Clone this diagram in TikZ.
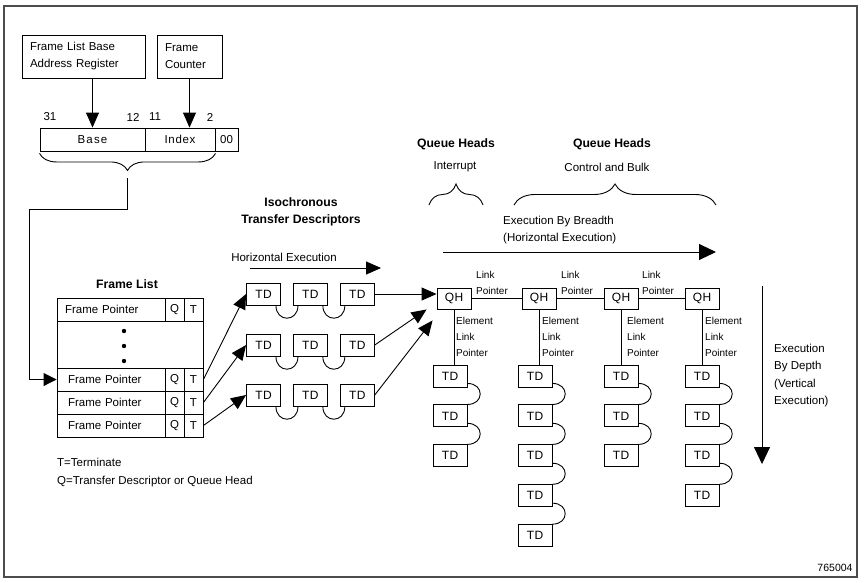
\documentclass[tikz,border=0pt]{standalone}
\usepackage{fontspec}
\setmainfont{Liberation Sans}
\usetikzlibrary{positioning}
\usetikzlibrary{arrows.meta, decorations.pathreplacing}

\tikzset{
  cell/.style={draw=black, line width=0.9pt, inner sep=0pt, font=\fontsize{11.5}{13}\selectfont},
  tdbox/.style={cell, minimum width=34pt, minimum height=22pt, font=\fontsize{12}{14}\selectfont\addfontfeatures{LetterSpace=4}},
  qhbox/.style={tdbox, minimum height=21pt},
  regbox/.style={cell, minimum height=23pt},
  fpbox/.style={cell, minimum height=23pt},
  txt/.style={font=\fontsize{11.5}{17.5}\selectfont, inner sep=0pt},
  small/.style={font=\fontsize{10}{16}\selectfont, inner sep=0pt, align=left},
  heading/.style={font=\fontsize{12.2}{17}\selectfont\bfseries, inner sep=0pt, align=center},
  pointer/.style={line width=0.9pt, -{Triangle[length=15pt,width=13pt]}},
  bigpointer/.style={line width=0.9pt, -{Triangle[length=17pt,width=16pt]}},
  link/.style={line width=0.9pt},
  curly/.style={line width=0.9pt, decorate, decoration={brace, amplitude=#1}},
}

\begin{document}
\begin{tikzpicture}[x=1pt,y=-1pt]
\useasboundingbox (0,0) rectangle (866,582);
\draw[black!70,line width=1.2pt] (4,6) rectangle (857,577);

% address registers
\node[cell, minimum width=123pt, minimum height=43pt, text width=107pt, inner xsep=8pt, align=left, font=\fontsize{11.5}{17}\selectfont] (flbase) at (83.5,56.5) {Frame List Base\\Address Register};
\node[cell, minimum width=65pt, minimum height=43pt, text width=49pt, inner xsep=8pt, align=left, font=\fontsize{11.5}{17}\selectfont] (fcount) at (189.5,56.5) {Frame\\Counter};
\node[regbox, minimum width=105pt, font=\fontsize{11.5}{13}\selectfont\addfontfeatures{LetterSpace=10}] (rbase) at (92.5,139.5) {Base};
\node[regbox, minimum width=70pt, font=\fontsize{11.5}{13}\selectfont\addfontfeatures{LetterSpace=6}] (rindex) at (180,139.5) {Index};
\node[regbox, minimum width=23pt] (rzero) at (226.5,139.5) {00};
\node[txt] (b31) at (50,117) {31};
\node[txt] (b12) at (133,117) {12};
\node[txt] (b11) at (155,117) {11};
\node[txt] (b2) at (210,117) {2};
\draw[pointer] (flbase.south -| rbase.north) -- (rbase.north);
\draw[pointer] (fcount.south) -- (fcount.south |- rindex.north);
\draw[curly=17pt] ([yshift=-2pt]rindex.south east) -- ([yshift=-2pt]rbase.south west);
\coordinate (rtip) at (127.5,178);
\coordinate (bend) at (29,209);

% frame list
\node[heading] (fltitle) at (127,284) {Frame List};
\node[fpbox, minimum width=108pt, text width=92pt, inner xsep=8pt, align=left] (fp1) at (111,309.5) {Frame Pointer};
\node[fpbox, minimum width=19pt] (fq1) at (174.5,309.5) {Q};
\node[fpbox, minimum width=19pt] (ft1) at (193.5,309.5) {T};
\node[cell, minimum width=146pt, minimum height=47pt] (fgap) at (130,344.5) {};
\fill (124,331) circle (2.2pt);
\fill (124,346) circle (2.2pt);
\fill (124,361) circle (2.2pt);
\node[fpbox, minimum width=108pt, text width=92pt, inner xsep=8pt, align=left] (fp2) at (111,379.5) {\hspace{3pt}Frame Pointer};
\node[fpbox, minimum width=19pt] (fq2) at (174.5,379.5) {Q};
\node[fpbox, minimum width=19pt] (ft2) at (193.5,379.5) {T};
\node[fpbox, minimum width=108pt, text width=92pt, inner xsep=8pt, align=left] (fp3) at (111,402.5) {\hspace{3pt}Frame Pointer};
\node[fpbox, minimum width=19pt] (fq3) at (174.5,402.5) {Q};
\node[fpbox, minimum width=19pt] (ft3) at (193.5,402.5) {T};
\node[fpbox, minimum width=108pt, text width=92pt, inner xsep=8pt, align=left] (fp4) at (111,425.5) {\hspace{3pt}Frame Pointer};
\node[fpbox, minimum width=19pt] (fq4) at (174.5,425.5) {Q};
\node[fpbox, minimum width=19pt] (ft4) at (193.5,425.5) {T};
\node[txt, anchor=west] (tleg) at (57,462) {T=Terminate};
\node[txt, anchor=west] (qleg) at (57,482) {Q=Transfer Descriptor or Queue Head};
\draw[pointer, -{Triangle[length=13pt,width=13pt]}] (rtip) |- (bend) |- (fp2.west);

% isochronous TDs
\node[heading] (isotitle) at (301,211.5) {Isochronous\\Transfer Descriptors};
\node[txt] (hexec) at (284,257) {Horizontal Execution};
\coordinate (hx0) at (250,268);
\coordinate (hx1) at (381,268);
\draw[pointer] (hx0) -- (hx1);
\node[tdbox] (i11) at (263.5,294) {TD};
\node[tdbox, right=12pt of i11] (i12) {TD};
\node[tdbox, right=12pt of i12] (i13) {TD};
\node[tdbox] (i21) at (263.5,345) {TD};
\node[tdbox, right=12pt of i21] (i22) {TD};
\node[tdbox, right=12pt of i22] (i23) {TD};
\node[tdbox] (i31) at (263.5,395) {TD};
\node[tdbox, right=12pt of i31] (i32) {TD};
\node[tdbox, right=12pt of i32] (i33) {TD};
\draw[link] ([xshift=-5pt]i11.south east) .. controls +(0,17) and +(0,17) .. ([xshift=5pt]i12.south west);
\draw[link] ([xshift=-5pt]i12.south east) .. controls +(0,17) and +(0,17) .. ([xshift=5pt]i13.south west);
\draw[link] ([xshift=-5pt]i21.south east) .. controls +(0,17) and +(0,17) .. ([xshift=5pt]i22.south west);
\draw[link] ([xshift=-5pt]i22.south east) .. controls +(0,17) and +(0,17) .. ([xshift=5pt]i23.south west);
\draw[link] ([xshift=-5pt]i31.south east) .. controls +(0,17) and +(0,17) .. ([xshift=5pt]i32.south west);
\draw[link] ([xshift=-5pt]i32.south east) .. controls +(0,17) and +(0,17) .. ([xshift=5pt]i33.south west);
\draw[pointer] (ft2.east) -- (i11.west);
\draw[pointer] (ft3.east) -- (i21.west);
\draw[pointer] (ft4.east) -- (i31.west);

% queue heads
\node[heading] (qhint) at (456,144) {Queue Heads};
\node[txt] (interrupt) at (455,167) {Interrupt};
\node[heading] (qhcb) at (612,144) {Queue Heads};
\node[txt] (ctrlbulk) at (607,167) {Control and Bulk};
\draw[curly=21pt] (429,205) -- (483,205);
\draw[curly=21pt] (514,205) -- (716,205);
\node[txt, anchor=west, align=left] (breadth) at (503,230) {Execution By Breadth\\(Horizontal Execution)};
\coordinate (bx0) at (443,252);
\coordinate (bx1) at (716,252);
\draw[bigpointer] (bx0) -- (bx1);

\node[qhbox] (qh1) at (454,298.5) {QH};
\node[qhbox] (qh2) at (539,298.5) {QH};
\node[qhbox] (qh3) at (621,298.5) {QH};
\node[qhbox] (qh4) at (702,298.5) {QH};
\draw[link] (qh1.east) -- (qh2.west);
\draw[link] (qh2.east) -- (qh3.west);
\draw[link] (qh3.east) -- (qh4.west);
\node[small, anchor=west] (lp1) at (476,283) {Link\\Pointer};
\node[small, anchor=west] (lp2) at (561,283) {Link\\Pointer};
\node[small, anchor=west] (lp3) at (642,283) {Link\\Pointer};
\draw[pointer] (i13.east) -- (i13.east -| qh1.west);
\draw[pointer] (i23.east) -- ([xshift=-10pt]qh1.south west);
\draw[pointer] (i33.east) -- ([xshift=-4pt,yshift=-11pt]qh1.south west);

% transfer descriptors by depth
\node[tdbox] (c11) at (450,376) {TD};
\node[tdbox, below=17pt of c11] (c12) {TD};
\node[tdbox, below=17pt of c12] (c13) {TD};
\node[tdbox] (c21) at (535,376) {TD};
\node[tdbox, below=17pt of c21] (c22) {TD};
\node[tdbox, below=17pt of c22] (c23) {TD};
\node[tdbox, below=17pt of c23] (c24) {TD};
\node[tdbox, below=17pt of c24] (c25) {TD};
\node[tdbox] (c31) at (621,376) {TD};
\node[tdbox, below=17pt of c31] (c32) {TD};
\node[tdbox, below=17pt of c32] (c33) {TD};
\node[tdbox] (c41) at (702,376) {TD};
\node[tdbox, below=17pt of c41] (c42) {TD};
\node[tdbox, below=17pt of c42] (c43) {TD};
\node[tdbox, below=17pt of c43] (c44) {TD};
\draw[link] (qh1.south) -- (qh1.south |- c11.north);
\draw[link] (qh2.south) -- (qh2.south |- c21.north);
\draw[link] (qh3.south) -- (qh3.south |- c31.north);
\draw[link] (qh4.south) -- (qh4.south |- c41.north);
\node[small, anchor=west] (elp1) at (456,337) {Element\\Link\\Pointer};
\node[small, anchor=west] (elp2) at (542,337) {Element\\Link\\Pointer};
\node[small, anchor=west] (elp3) at (627,337) {Element\\Link\\Pointer};
\node[small, anchor=west] (elp4) at (705,337) {Element\\Link\\Pointer};
\draw[link] ([yshift=4pt]c11.south east) .. controls +(17,0) and +(17,0) .. (c12.north east);
\draw[link] ([yshift=4pt]c12.south east) .. controls +(17,0) and +(17,0) .. (c13.north east);
\draw[link] ([yshift=4pt]c21.south east) .. controls +(17,0) and +(17,0) .. (c22.north east);
\draw[link] ([yshift=4pt]c22.south east) .. controls +(17,0) and +(17,0) .. (c23.north east);
\draw[link] ([yshift=4pt]c23.south east) .. controls +(17,0) and +(17,0) .. (c24.north east);
\draw[link] ([yshift=4pt]c24.south east) .. controls +(17,0) and +(17,0) .. (c25.north east);
\draw[link] ([yshift=4pt]c31.south east) .. controls +(17,0) and +(17,0) .. (c32.north east);
\draw[link] ([yshift=4pt]c32.south east) .. controls +(17,0) and +(17,0) .. (c33.north east);
\draw[link] ([yshift=4pt]c41.south east) .. controls +(17,0) and +(17,0) .. (c42.north east);
\draw[link] ([yshift=4pt]c42.south east) .. controls +(17,0) and +(17,0) .. (c43.north east);
\draw[link] ([yshift=4pt]c43.south east) .. controls +(17,0) and +(17,0) .. (c44.north east);
\coordinate (dx0) at (762,286);
\coordinate (dx1) at (762,464);
\draw[bigpointer] (dx0) -- (dx1);
\node[txt, anchor=west, align=left] (depth) at (774,375.5) {Execution\\By Depth\\(Vertical\\Execution)};
\node[font=\fontsize{10.5}{12}\selectfont, inner sep=0pt] (figno) at (835,568) {765004};
\end{tikzpicture}
\end{document}
